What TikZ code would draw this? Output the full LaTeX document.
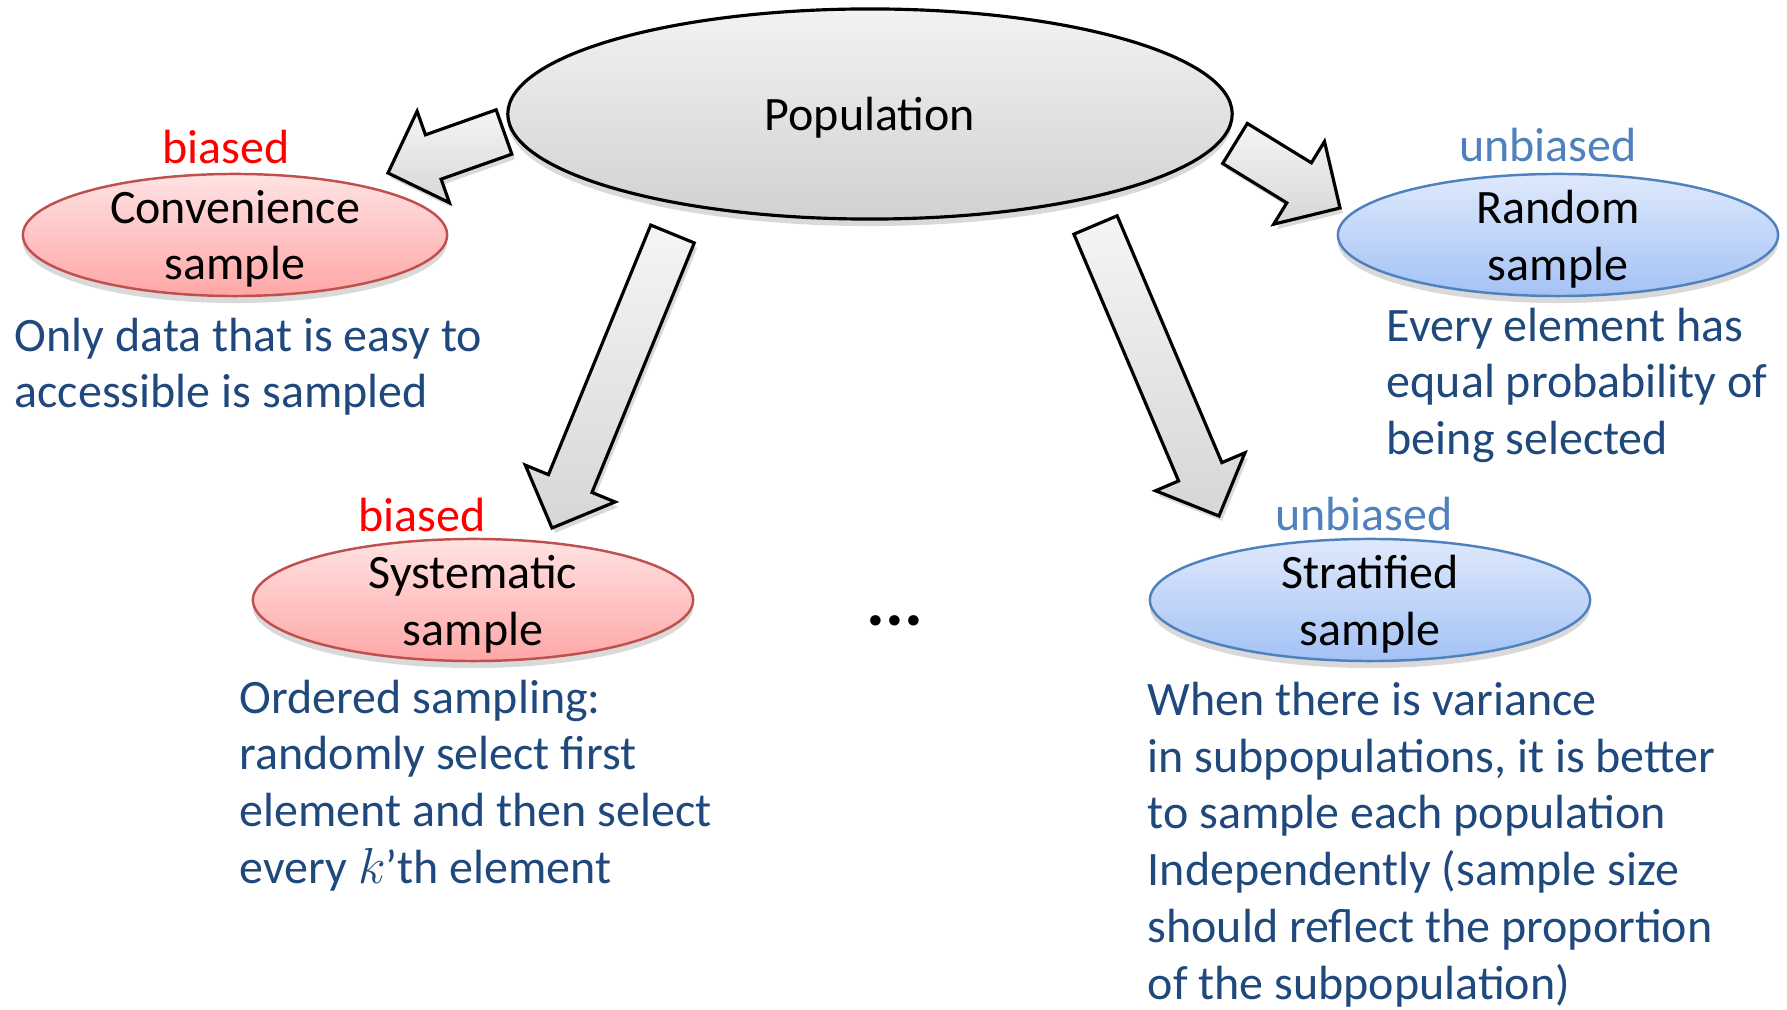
\documentclass[tikz,border=0pt]{standalone}
\usepackage{fontspec}
\setmainfont{Carlito}
\usetikzlibrary{shapes.geometric, shadows, calc}

\definecolor{navy}{HTML}{1F497D}
\definecolor{paleblue}{HTML}{4F81BD}
\definecolor{redline}{HTML}{C0504D}
\definecolor{bluetop}{HTML}{DFE9FC}
\definecolor{bluebot}{HTML}{A3C2F5}
\definecolor{redtop}{HTML}{FFE3E3}
\definecolor{redbot}{HTML}{FFA6A6}

\tikzset{
  txt/.style={font=\fontsize{13.65}{16.2}\selectfont},
  popnode/.style={txt, ellipse, draw=black, line width=0.9pt, top color=gray!10, bottom color=gray!36,
    minimum width=7.24cm, minimum height=2.1cm, inner sep=0pt, text depth=0pt,
    drop shadow={opacity=0.3, shadow xshift=0pt, shadow yshift=-0.7mm}},
  badnode/.style={txt, ellipse, draw=redline, line width=0.7pt, top color=redtop, bottom color=redbot,
    minimum width=4.4cm, minimum height=1.22cm, inner xsep=0pt, inner ysep=-0.15cm, align=center, text depth=0pt,
    drop shadow={opacity=0.3, shadow xshift=0pt, shadow yshift=-0.7mm}},
  goodnode/.style={txt, ellipse, draw=paleblue, line width=0.7pt, top color=bluetop, bottom color=bluebot,
    minimum width=4.4cm, minimum height=1.22cm, inner xsep=0pt, inner ysep=-0.15cm, align=center, text depth=0pt,
    drop shadow={opacity=0.3, shadow xshift=0pt, shadow yshift=-0.7mm}},
  desc/.style={txt, text=navy, align=left, anchor=north west, inner sep=0pt},
  blockarr/.style={draw=black, line width=0.9pt, top color=gray!8, bottom color=gray!32,
    drop shadow={opacity=0.3, shadow xshift=0.3mm, shadow yshift=-0.5mm}}
}

% block arrow from tail #1 to tip #2
\newcommand{\blockarrow}[2]{%
  \coordinate (hb) at ($(#2)!0.48cm!(#1)$);
  \path[blockarr] ($(#1)!0.235cm!90:(#2)$) -- ($(hb)!0.235cm!90:(#2)$) -- ($(hb)!0.485cm!90:(#2)$)
    -- (#2) -- ($(hb)!0.485cm!-90:(#2)$) -- ($(hb)!0.235cm!-90:(#2)$) -- ($(#1)!0.235cm!-90:(#2)$) -- cycle;
}

\begin{document}
\begin{tikzpicture}[x=0.01cm,y=-0.01cm]
  \useasboundingbox (0,0) rectangle (1787,1010);

  % the population
  \node[popnode] (pop) at (870,114) {Population};

  % the four kinds of sample
  \node[badnode, minimum width=4.24cm] (conv) at (235,235) {Convenience\\sample};
  \node[goodnode] (rand) at (1558,235) {Random\\sample};
  \node[badnode] (syst) at (473,600) {Systematic\\sample};
  \node[goodnode] (strat) at (1370,600) {Stratified\\sample};

  % biased / unbiased
  \node[txt, text=red] (convTag) at (226,147) {biased};
  \node[txt, text=paleblue] (randTag) at (1548,145) {unbiased};
  \node[txt, text=red] (systTag) at (422,515) {biased};
  \node[txt, text=paleblue] (stratTag) at (1364,514) {unbiased};

  % arrows out of the population
  \coordinate (convTail) at (504,132);
  \coordinate (convTip) at (388,173);
  \coordinate (randTail) at (1235,143.5);
  \coordinate (randTip) at (1340,208);
  \coordinate (systTail) at (672.5,234);
  \coordinate (systTip) at (552,528);
  \coordinate (stratTail) at (1095.5,225);
  \coordinate (stratTip) at (1219,516);
  \blockarrow{convTail}{convTip}
  \blockarrow{randTail}{randTip}
  \blockarrow{systTail}{systTip}
  \blockarrow{stratTail}{stratTip}

  % descriptions
  \node[desc] (convText) at (14,317) {Only data that is easy to\\accessible is sampled};
  \node[desc] (randText) at (1386,307) {Every element has\\equal probability of\\being selected};
  \node[desc] (systText) at (239,679) {Ordered sampling:\\randomly select first\\element and then select\\every $k$'th element};
  \node[desc] (stratText) at (1147,681) {When there is variance\\in subpopulations, it is better\\to sample each population\\Independently (sample size\\should reflect the proportion\\of the subpopulation)};

  % and so on
  \node[font=\fontsize{20}{24}\selectfont\bfseries] (more) at (895,621) {...};
\end{tikzpicture}
\end{document}
